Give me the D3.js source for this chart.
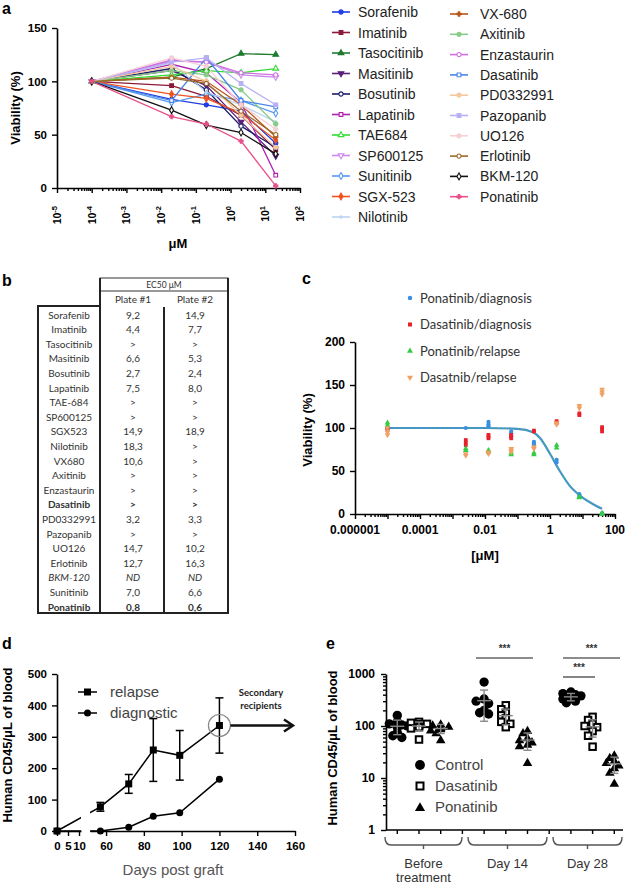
<!DOCTYPE html>
<html><head><meta charset="utf-8">
<script src="https://cdn.jsdelivr.net/npm/d3@7"></script>
<style>body{margin:0;background:#fff}svg{display:block}</style>
</head><body><svg id="c" width="629" height="886"></svg>
<script>
// ---------------- DATA ----------------
// Panel a
const concA = [1e-4, 0.02, 0.2, 2, 20];
const drugsA = ["Sorafenib","Imatinib","Tasocitinib","Masitinib","Bosutinib","Lapatinib","TAE684","SP600125","Sunitinib","SGX-523","Nilotinib",
  "VX-680","Axitinib","Enzastaurin","Dasatinib","PD0332991","Pazopanib","UO126","Erlotinib","BKM-120","Ponatinib"];
const colorsA = ["#1f3de0","#8b1a3a","#1e7b2e","#5b1f7a","#1c1f6b","#b020b0","#33dd33","#cc88ee","#5599ee","#ee5522","#bcd4f0",
  "#b8561a","#88cc88","#d070e0","#4a86e8","#f5c8a0","#b8b0f5","#f5d0d5","#9a6a2a","#111111","#e8508a"];
const valuesA = [
  [100,83,78,72,42],[100,96,86,68,36],[100,104,112,126,125],[100,110,96,62,30],[100,112,92,58,38],
  [100,116,108,80,12],[100,106,110,108,112],[100,119,118,106,104],[100,80,88,82,70],[100,88,84,70,45],
  [100,117,90,78,62],[100,104,100,78,48],[100,110,106,92,60],[100,120,118,108,106],[100,82,122,82,76],
  [100,114,100,68,38],[100,118,122,98,78],[100,122,114,78,55],[100,103,98,72,50],[100,73,59,52,32],[100,67,60,44,2]];
const yTicksA = [0,50,100,150];
const expTicksA = ["-5","-4","-3","-2","-1","0","1","2"];

// Panel b
const tableDrugs = ["Sorafenib","Imatinib","Tasocitinib","Masitinib","Bosutinib","Lapatinib","TAE-684","SP600125","SGX523","Nilotinib",
  "VX680","Axitinib","Enzastaurin","Dasatinib","PD0332991","Pazopanib","UO126","Erlotinib","BKM-120","Sunitinib","Ponatinib"];
const plate1 = ["9,2","4,4",">","6,6","2,7","7,5",">",">","14,9","18,3","10,6",">",">",">","3,2",">","14,7","12,7","ND","7,0","0,8"];
const plate2 = ["14,9","7,7",">","5,3","2,4","8,0",">",">","18,9",">",">",">",">",">","3,3",">","10,2","16,3","ND","6,6","0,6"];
const boldRows = ["Dasatinib","Ponatinib"];
const italicRows = ["BKM-120"];

// Panel c
const concC = [1e-5, 0.00256, 0.0128, 0.064, 0.32, 1.6, 8, 40];
const ponDiag = [[99,101],[100],[102,104,107],[90,94,96],[80,82,84],[60,63],[21,23],[0,1]];
const dasDiag = [[97,100],[80,83,86],[88,90,92],[88,90,92],[96,97],[106,108],[115,117],[96,99,101]];
const ponRel  = [[103,106],[74,76],[72,74],[69,71],[69,71],[77,80],[19,20],[0,1]];
const dasRel  = [[92,96,100],[68,70],[70,72],[72,74,76],[76,78],[104,106],[123,126],[139,142,145]];
const curveConc = [1e-5,1e-3,0.01,0.1,0.3,0.5,1,2,4,8,20,40];
const curveVia  = [100,100,100,99,95,88,70,50,33,22,12,6];
const legendC = ["Ponatinib/diagnosis","Dasatinib/diagnosis","Ponatinib/relapse","Dasatnib/relapse"];
const colorsC = ["#3b8fe0","#e8202a","#33cc44","#f0a060"];
const xTicksC = [1e-6,1e-4,1e-2,1,100];
const xLabelsC = ["0.000001","0.0001","0.01","1","100"];
const yTicksC = [0,50,100,150,200];

// Panel d
const daysD = [0,57,72,85,99,120];
const relapse = [0,77,150,258,241,336];
const relapseErr = [0,14,30,100,79,88];
const diagnostic = [0,0,12,47,58,165];
const xTicksD1 = [0,5,10];
const xTicksD2 = [60,80,100,120,140,160];
const yTicksD = [0,100,200,300,400,500];

// Panel e
const groupsE = [["Before","treatment"],["Day 14"],["Day 28"]];
const legendE = ["Control","Dasatinib","Ponatinib"];
const beforeControl = [160,120,110,105,100,95,75,65,60];
const beforeDasatinib = [120,115,110,108,105,100,95,90,55];
const beforePonatinib = [110,105,100,95,90,85,75,55];
const d14Control = [700,330,300,270,200,180,170];
const d14Dasatinib = [250,210,180,160,140,120,110,95];
const d14Ponatinib = [83,75,60,55,50,45,42,20];
const d28Control = [450,420,400,380,350,330,300,280];
const d28Dasatinib = [150,130,110,100,95,80,65,40];
const d28Ponatinib = [28,25,22,20,18,16,13,8];
const yTicksE = [1,10,100,1000];

// ---------------- DRAW ----------------
const svg = d3.select("#c");
svg.append("rect").attr("width",629).attr("height",886).attr("fill","#fff");
const AR = "Liberation Sans, Arial, sans-serif";
const CAL = "Lato, 'Open Sans', sans-serif";
function styleAxis(g, fs){
  g.select(".domain").attr("stroke","#000").attr("stroke-width",1.6);
  g.selectAll(".tick line").attr("stroke","#000").attr("stroke-width",1.4);
  g.selectAll(".tick text").attr("font-family",AR).attr("font-weight","bold").attr("font-size",fs).attr("fill","#000");
}
function isMajor(d){ const l=Math.log10(d); return Math.abs(l-Math.round(l))<1e-6; }
function label(t,x,y){ svg.append("text").attr("x",x).attr("y",y).text(t).attr("font-family",AR).attr("font-weight","bold").attr("font-size",16); }

// ===== Panel a =====
label("a",2,14);
const xA = d3.scaleLog().domain([1e-5,1e2]).range([57,300]);
const yA = d3.scaleLinear().domain([0,150]).range([188,28]);
const gAy = svg.append("g").attr("transform","translate(57,0)")
  .call(d3.axisLeft(yA).tickValues(yTicksA).tickSize(5).tickSizeOuter(0).tickPadding(5));
styleAxis(gAy,11.5);
const gAx = svg.append("g").attr("transform","translate(0,188)")
  .call(d3.axisBottom(xA).tickValues(xA.ticks()).tickFormat("").tickSizeOuter(0));
styleAxis(gAx,11);
gAx.selectAll(".tick line").attr("y2",d=>isMajor(d)?5:3);
svg.selectAll(".xla").data(expTicksA).join("text")
  .attr("transform",d=>`translate(${xA(Math.pow(10,+d))+4},206) rotate(-90)`)
  .attr("text-anchor","end").attr("font-family",AR).attr("font-weight","bold").attr("font-size",10.5)
  .each(function(d){ const t=d3.select(this); t.append("tspan").text("10"); t.append("tspan").attr("dy",-4).attr("font-size",7.5).text(d); });
svg.append("text").attr("x",178).attr("y",248).attr("text-anchor","middle").attr("font-family",AR).attr("font-weight","bold").attr("font-size",13).text("μM");
svg.append("text").attr("transform","translate(20,108) rotate(-90)").attr("text-anchor","middle").attr("font-family",AR).attr("font-weight","bold").attr("font-size",13).text("Viability (%)");

const symSpec = [
  ["circle",1],["square",1],["triangle",1],["itri",1],["circle",0],["square",0],["triangle",0],["itri",0],["diamond",0],["diamond",1],["none",1],
  ["plus",1],["circle",1],["circle",0],["square",0],["circle",1],["square",1],["circle",1],["circle",0],["diamond",0],["plus",1]];
function symPath(t,s){
  const m = {circle:d3.symbolCircle,square:d3.symbolSquare,triangle:d3.symbolTriangle,itri:d3.symbolTriangle,diamond:d3.symbolDiamond,plus:d3.symbolCross,none:d3.symbolCircle};
  return d3.symbol().type(m[t]).size(t==="none"?4:(t==="plus"?s*0.7:s))();
}
function drawMarker(g,x,y,i,size){
  const [t,f]=symSpec[i];
  g.append("path").attr("d",symPath(t,size)).attr("transform",`translate(${x},${y})${t==="itri"?" rotate(180)":""}`)
    .attr("fill",f?colorsA[i]:"#fff").attr("stroke",colorsA[i]).attr("stroke-width",1.1);
}
const lineA = d3.line().x((d,j)=>xA(concA[j])).y(d=>yA(d));
const gLines = svg.append("g");
valuesA.forEach((vals,i)=>{
  gLines.append("path").attr("d",lineA(vals)).attr("fill","none").attr("stroke",colorsA[i]).attr("stroke-width",1.3);
});
valuesA.forEach((vals,i)=>{
  vals.forEach((v,j)=>drawMarker(gLines,xA(concA[j]),yA(v),i,14));
});
// legend a
drugsA.forEach((d,i)=>{
  const col = i<11?0:1, r = col?i-11:i;
  const y = col? 14+r*20.3 : 12+r*20.5;
  const x0 = col?450:332;
  const g = svg.append("g");
  g.append("line").attr("x1",x0).attr("x2",x0+18).attr("y1",y).attr("y2",y).attr("stroke",colorsA[i]).attr("stroke-width",1.6);
  drawMarker(g,x0+9,y,i,14);
  g.append("text").attr("x",col?480:358).attr("y",y).attr("dy","0.36em").attr("font-family",AR).attr("font-size",14).attr("fill","#222").text(d);
});

// ===== Panel b =====
label("b",2,286);
const rowY = d3.scaleLinear().domain([0,20]).range([315,607]);
const gT = svg.append("g");
const colX = [69,133,195];
gT.append("rect").attr("x",100).attr("y",278).attr("width",128).attr("height",13).attr("fill","none").attr("stroke","#333").attr("stroke-width",1);
gT.append("text").attr("x",164).attr("y",285).attr("dy","0.35em").attr("text-anchor","middle").attr("font-family",CAL).attr("font-size",8.5).attr("fill","#333").text("EC50 μM");
[["Plate #1",colX[1]],["Plate #2",colX[2]]].forEach(([t,x])=>gT.append("text").attr("x",x).attr("y",299).attr("dy","0.35em").attr("text-anchor","middle").attr("font-family",CAL).attr("font-size",10).attr("fill","#333").text(t));
const thick = (x1,y1,x2,y2)=>gT.append("line").attr("x1",x1).attr("y1",y1).attr("x2",x2).attr("y2",y2).attr("stroke","#222").attr("stroke-width",2);
thick(100,278,100,613); thick(228,278,228,613); thick(38,306,38,613); thick(164,307,164,613);
thick(37,613,229,613); thick(37,306,100,306);
tableDrugs.forEach((d,i)=>{
  const y=rowY(i), b=boldRows.includes(d), it=italicRows.includes(d);
  [d,plate1[i],plate2[i]].forEach((t,k)=>{
    gT.append("text").attr("x",colX[k]).attr("y",y).attr("dy","0.35em").attr("text-anchor","middle")
      .attr("font-family",CAL).attr("font-size",10).attr("fill","#333")
      .attr("font-weight",b?"bold":"normal").attr("font-style",it?"italic":"normal").text(t);
  });
});

// ===== Panel c =====
label("c",302,284);
const xC = d3.scaleLog().domain([1e-6,100]).range([355,615]);
const yC = d3.scaleLinear().domain([0,200]).range([514,342]);
const gCy = svg.append("g").attr("transform","translate(355,0)")
  .call(d3.axisLeft(yC).tickValues(yTicksC).tickSize(5).tickSizeOuter(0).tickPadding(5));
styleAxis(gCy,12);
const gCx = svg.append("g").attr("transform","translate(0,514)")
  .call(d3.axisBottom(xC).tickValues(xC.ticks()).tickFormat("").tickSizeOuter(0));
styleAxis(gCx,12);
gCx.selectAll(".tick line").attr("y2",d=>isMajor(d)?5:3);
svg.selectAll(".xlc").data(xTicksC).join("text").attr("x",d=>xC(d)).attr("y",530).attr("dy","0.35em")
  .attr("text-anchor","middle").attr("font-family",AR).attr("font-weight","bold").attr("font-size",12).text((d,i)=>xLabelsC[i]);
svg.append("text").attr("x",485).attr("y",560).attr("text-anchor","middle").attr("font-family",AR).attr("font-weight","bold").attr("font-size",13).text("[μM]");
svg.append("text").attr("transform","translate(312,430) rotate(-90)").attr("text-anchor","middle").attr("font-family",AR).attr("font-weight","bold").attr("font-size",13).text("Viability (%)");
const curveLine = d3.line().x((d,i)=>xC(curveConc[i])).y(d=>yC(d)).curve(d3.curveMonotoneX);
svg.append("path").attr("d",curveLine(curveVia)).attr("fill","none").attr("stroke","#4a90d9").attr("stroke-width",2.2);
svg.append("path").attr("d",curveLine(curveVia)).attr("fill","none").attr("stroke","#33bb55").attr("stroke-width",1.2).attr("stroke-dasharray","1.5,3");
const symC = [d3.symbolCircle,d3.symbolSquare,d3.symbolTriangle,d3.symbolTriangle];
[ponDiag,dasDiag,ponRel,dasRel].forEach((ser,s)=>{
  ser.forEach((reps,j)=>reps.forEach(v=>{
    svg.append("path").attr("d",d3.symbol().type(symC[s]).size(14)())
      .attr("transform",`translate(${xC(concC[j])},${yC(v)})${s===3?" rotate(180)":""}`).attr("fill",colorsC[s]);
  }));
});
legendC.forEach((t,i)=>{
  const y = 298+i*26.5;
  svg.append("path").attr("d",d3.symbol().type(symC[i]).size(16)()).attr("transform",`translate(410,${y})${i===3?" rotate(180)":""}`).attr("fill",colorsC[i]);
  svg.append("text").attr("x",420).attr("y",y).attr("dy","0.36em").attr("font-family",CAL).attr("font-size",13).attr("fill","#333").text(t);
});

// ===== Panel d =====
label("d",2,649);
const xD1 = d3.scaleLinear().domain([0,10.9]).range([57,81]);
const xD2 = d3.scaleLinear().domain([51.5,160]).range([90,295]);
const xD = d=> d<30 ? xD1(d) : xD2(d);
const yD = d3.scaleLinear().domain([0,500]).range([831,674]);
const gDy = svg.append("g").attr("transform","translate(57,0)")
  .call(d3.axisLeft(yD).tickValues(yTicksD).tickSize(5).tickSizeOuter(0).tickPadding(5));
styleAxis(gDy,11.5);
const gDx1 = svg.append("g").attr("transform","translate(0,831)").call(d3.axisBottom(xD1).tickValues(xTicksD1).tickSize(5).tickSizeOuter(0).tickPadding(6));
const gDx2 = svg.append("g").attr("transform","translate(0,831)").call(d3.axisBottom(xD2).tickValues(xTicksD2).tickSize(5).tickSizeOuter(0).tickPadding(6));
styleAxis(gDx1,11.5); styleAxis(gDx2,11.5);
svg.append("text").attr("x",173).attr("y",875).attr("text-anchor","middle").attr("font-family",AR).attr("font-size",15).attr("fill","#555").text("Days post graft");
svg.append("text").attr("transform","translate(12,745) rotate(-90)").attr("text-anchor","middle").attr("font-family",AR).attr("font-weight","bold").attr("font-size",13).text("Human CD45/μL of blood");
const defs = svg.append("defs");
defs.append("clipPath").attr("id","clipD").call(c=>{
  c.append("rect").attr("x",40).attr("y",660).attr("width",41).attr("height",190);
  c.append("rect").attr("x",90).attr("y",660).attr("width",220).attr("height",190);
});
const lineD = d3.line().x((d,i)=>xD(daysD[i])).y(d=>yD(d));
const gD = svg.append("g");
gD.append("path").attr("d",lineD(relapse)).attr("fill","none").attr("stroke","#000").attr("stroke-width",1.5).attr("clip-path","url(#clipD)");
gD.append("path").attr("d",lineD(diagnostic)).attr("fill","none").attr("stroke","#000").attr("stroke-width",1.5).attr("clip-path","url(#clipD)");
relapse.forEach((v,i)=>{
  const e=relapseErr[i]; if(!e) return;
  const x=xD(daysD[i]);
  gD.append("line").attr("x1",x).attr("x2",x).attr("y1",yD(v-e)).attr("y2",yD(v+e)).attr("stroke","#000").attr("stroke-width",1.5);
  [v-e,v+e].forEach(w=>gD.append("line").attr("x1",x-4).attr("x2",x+4).attr("y1",yD(w)).attr("y2",yD(w)).attr("stroke","#000").attr("stroke-width",1.5));
});
diagnostic.forEach((v,i)=>gD.append("circle").attr("cx",xD(daysD[i])).attr("cy",yD(v)).attr("r",3.5).attr("fill","#000"));
relapse.forEach((v,i)=>gD.append("rect").attr("x",xD(daysD[i])-3.5).attr("y",yD(v)-3.5).attr("width",7).attr("height",7).attr("fill","#000"));
// circle & arrow
gD.append("circle").attr("cx",xD(120)).attr("cy",yD(336)).attr("r",11).attr("fill","none").attr("stroke","#888").attr("stroke-width",1.2);
gD.append("line").attr("x1",xD(120)+11).attr("x2",292).attr("y1",yD(336)).attr("y2",yD(336)).attr("stroke","#111").attr("stroke-width",2.5);
gD.append("path").attr("d",`M284,${yD(336)-6}L293,${yD(336)}L284,${yD(336)+6}`).attr("fill","none").attr("stroke","#111").attr("stroke-width",2.5);
["Secondary","recipients"].forEach((t,i)=>gD.append("text").attr("x",261).attr("y",693+i*13).attr("dy","0.35em").attr("text-anchor","middle").attr("font-family",CAL).attr("font-weight","bold").attr("font-size",9.5).attr("fill","#222").text(t));
// legend d
[["relapse","sq"],["diagnostic","ci"]].forEach(([t,m],i)=>{
  const y=692+i*21;
  gD.append("line").attr("x1",78).attr("x2",97).attr("y1",y).attr("y2",y).attr("stroke","#000").attr("stroke-width",1.5);
  if(m==="sq") gD.append("rect").attr("x",84).attr("y",y-3.5).attr("width",7).attr("height",7).attr("fill","#000");
  else gD.append("circle").attr("cx",87.5).attr("cy",y).attr("r",3.5).attr("fill","#000");
  gD.append("text").attr("x",110).attr("y",y).attr("dy","0.36em").attr("font-family",AR).attr("font-size",15).attr("fill","#444").text(t);
});

// ===== Panel e =====
label("e",326,649);
const yE = d3.scaleLog().domain([1,1000]).range([830,674]);
const slotX = d3.scaleLinear().domain([0,10]).range([397.3,614.3]);
const gEy = svg.append("g").attr("transform","translate(386,0)")
  .call(d3.axisLeft(yE).tickValues(yE.ticks()).tickFormat(d=>yTicksE.includes(d)?d:"").tickSizeOuter(0).tickPadding(5));
styleAxis(gEy,12);
gEy.selectAll(".tick line").attr("x2",d=>isMajor(d)?-5:-3);
svg.append("line").attr("x1",386).attr("x2",623).attr("y1",830).attr("y2",830).attr("stroke","#000").attr("stroke-width",1.6);
d3.range(11).forEach(i=>svg.append("line").attr("x1",slotX(i)).attr("x2",slotX(i)).attr("y1",830).attr("y2",834).attr("stroke","#000").attr("stroke-width",1.4));
svg.append("text").attr("transform","translate(337,748) rotate(-90)").attr("text-anchor","middle").attr("font-family",AR).attr("font-weight","bold").attr("font-size",13).text("Human CD45/μL of blood");
const setsE = [[beforeControl,0,0],[beforeDasatinib,1,1],[beforePonatinib,2,2],[d14Control,4,0],[d14Dasatinib,5,1],[d14Ponatinib,6,2],[d28Control,8,0],[d28Dasatinib,9,1],[d28Ponatinib,10,2]];
function markE(g,x,y,t,sz){
  if(t===0) g.append("circle").attr("cx",x).attr("cy",y).attr("r",sz*0.55).attr("fill","#000");
  else if(t===1) g.append("rect").attr("x",x-sz/2+1).attr("y",y-sz/2+1).attr("width",sz-2).attr("height",sz-2).attr("fill","#fff").attr("stroke","#000").attr("stroke-width",2);
  else g.append("path").attr("d",d3.symbol().type(d3.symbolTriangle).size(sz*sz*0.55)()).attr("transform",`translate(${x},${y+1})`).attr("fill","#000");
}
const gE = svg.append("g");
setsE.forEach(([vals,slot,t])=>{
  const cx=slotX(slot);
  const placed=[];
  vals.slice().sort((a,b)=>b-a).forEach(v=>{
    const y=yE(v);
    const offs=[0,-4.5,4.5,-8,8,-10,10];
    let ox=0;
    for(const o of offs){ if(placed.every(p=>Math.hypot(p[0]-o,p[1]-y)>=5)){ox=o;break;} }
    placed.push([ox,y]);
    markE(gE,cx+ox,y,t,8.5);
  });
  const m=d3.mean(vals), sd=d3.deviation(vals);
  const gg=gE.append("g").attr("stroke","#888").attr("stroke-width",1.4);
  gg.append("line").attr("x1",cx-7).attr("x2",cx+7).attr("y1",yE(m)).attr("y2",yE(m));
  gg.append("line").attr("x1",cx).attr("x2",cx).attr("y1",yE(m+sd)).attr("y2",yE(Math.max(m-sd,1.5)));
  [m+sd,Math.max(m-sd,1.5)].forEach(w=>gg.append("line").attr("x1",cx-4).attr("x2",cx+4).attr("y1",yE(w)).attr("y2",yE(w)));
});
// brackets
[[385,462],[468,547],[553,622]].forEach(([a,b],i)=>{
  const c=(a+b)/2;
  svg.append("path").attr("d",`M${a},837 Q${a},845 ${a+6},845 L${c},845 L${c},849 M${c},845 L${b-6},845 Q${b},845 ${b},837`)
    .attr("fill","none").attr("stroke","#555").attr("stroke-width",1.4);
  groupsE[i].forEach((t,k)=>svg.append("text").attr("x",c).attr("y",864+k*13.5).attr("dy","0.32em").attr("text-anchor","middle").attr("font-family",AR).attr("font-size",13).attr("fill","#333").text(t));
});
// significance
[[476,533,658],[563,620,658],[563,595,677]].forEach(([a,b,y])=>{
  svg.append("line").attr("x1",a).attr("x2",b).attr("y1",y).attr("y2",y).attr("stroke","#666").attr("stroke-width",1.6);
  svg.append("text").attr("x",(a+b)/2).attr("y",y-6).attr("text-anchor","middle").attr("font-family",AR).attr("font-weight","bold").attr("font-size",10).attr("fill","#333").text("***");
});
legendE.forEach((t,i)=>{
  const y=765+i*21;
  markE(svg,420,y,i,9);
  svg.append("text").attr("x",435).attr("y",y).attr("dy","0.36em").attr("font-family",AR).attr("font-size",15).attr("fill","#444").text(t);
});
</script></body></html>
